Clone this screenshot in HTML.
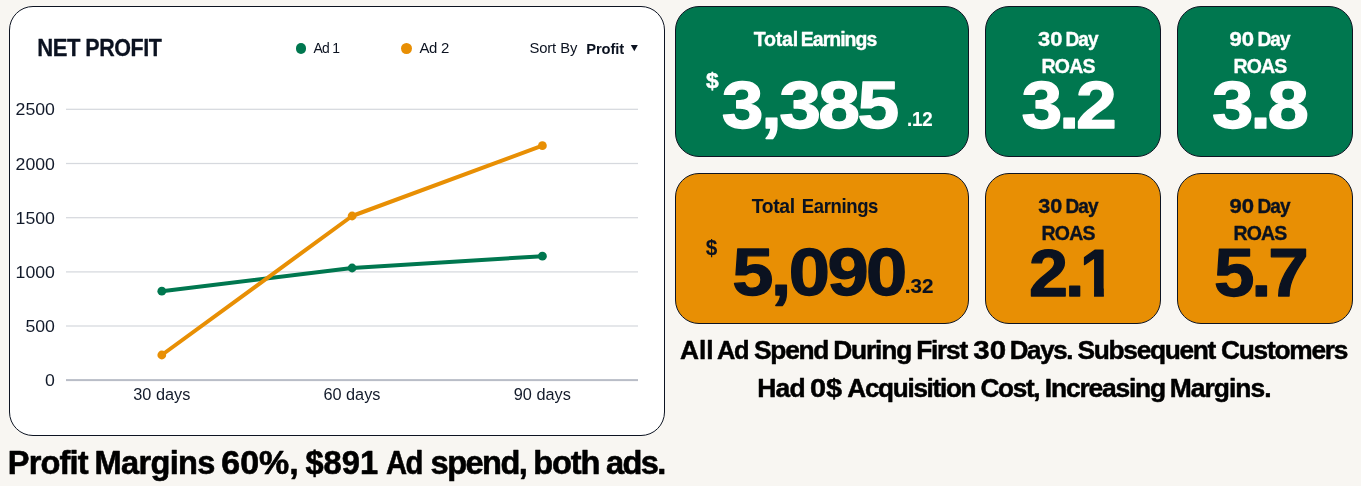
<!DOCTYPE html>
<html lang="en">
<head>
<meta charset="utf-8">
<title>Net Profit</title>
<style>
*{box-sizing:border-box;margin:0;padding:0}
html,body{width:1361px;height:486px;overflow:hidden;background:#f8f6f2;font-family:"Liberation Sans", Arial, sans-serif;color:#0b1220}
.card{position:absolute;border:1px solid #0d1422;border-radius:24px}
.chart{left:9px;top:6px;width:656px;height:430px;background:#fff}
.g{background:#00774f}
.o{background:#e88f04}
.dot{position:absolute;width:10.9px;height:10.9px;border-radius:50%}
svg{position:absolute;left:0;top:0}
</style>
</head>
<body>
<div class="card chart"></div>
<div class="dot" style="left:295.5px;top:42.65px;background:#00774f"></div>
<div class="dot" style="left:401.3px;top:42.65px;background:#e88f04"></div>
<div class="card g" style="left:675px;top:6px;width:294px;height:151px"></div>
<div class="card g" style="left:985px;top:6px;width:176px;height:151px"></div>
<div class="card g" style="left:1177px;top:6px;width:176px;height:151px"></div>
<div class="card o" style="left:675px;top:173px;width:294px;height:151px"></div>
<div class="card o" style="left:985px;top:173px;width:176px;height:151px"></div>
<div class="card o" style="left:1177px;top:173px;width:176px;height:151px"></div>
<svg width="1361" height="486" viewBox="0 0 1361 486" font-family='"Liberation Sans", Arial, sans-serif'>
<defs><clipPath id="c1"><path d="M1081.90 228.07H1103.85V298.58H1094.04V286.86H1081.90z"/></clipPath></defs>
<g fill="#d6d9de"><rect x="66" y="108.68" width="572" height="1.25"/><rect x="66" y="162.88" width="572" height="1.25"/><rect x="66" y="217.08" width="572" height="1.25"/><rect x="66" y="271.28" width="572" height="1.25"/><rect x="66" y="325.38" width="572" height="1.25"/></g>
<rect x="66" y="379.1" width="572" height="2" fill="#b9bdc7"/>
<g font-size="17.1" fill="#121a2a">
<text x="15.57" y="115.45" textLength="39.37" lengthAdjust="spacingAndGlyphs">2500</text>
<text x="15.57" y="169.65" textLength="39.37" lengthAdjust="spacingAndGlyphs">2000</text>
<text x="15.57" y="223.85" textLength="39.37" lengthAdjust="spacingAndGlyphs">1500</text>
<text x="15.57" y="278.05" textLength="39.37" lengthAdjust="spacingAndGlyphs">1000</text>
<text x="25.41" y="332.15" textLength="29.53" lengthAdjust="spacingAndGlyphs">500</text>
<text x="45.10" y="386.35" textLength="9.84" lengthAdjust="spacingAndGlyphs">0</text>
<text x="133.31" y="400.2" textLength="57.08" lengthAdjust="spacingAndGlyphs">30 days</text>
<text x="323.40" y="400.2" textLength="57.08" lengthAdjust="spacingAndGlyphs">60 days</text>
<text x="513.78" y="400.2" textLength="57.08" lengthAdjust="spacingAndGlyphs">90 days</text>
</g>
<polyline points="161.8,291.2 352.1,268.0 542.4,256.2" fill="none" stroke="#00774f" stroke-width="4" stroke-linejoin="round" stroke-linecap="round"/>
<polyline points="161.8,355.0 352.1,216.0 542.4,145.7" fill="none" stroke="#e88f04" stroke-width="4" stroke-linejoin="round" stroke-linecap="round"/>
<g fill="#00774f"><circle cx="161.8" cy="291.2" r="4.4"/><circle cx="352.1" cy="268.0" r="4.4"/><circle cx="542.4" cy="256.2" r="4.4"/></g>
<g fill="#e88f04"><circle cx="161.8" cy="355.0" r="4.4"/><circle cx="352.1" cy="216.0" r="4.4"/><circle cx="542.4" cy="145.7" r="4.4"/></g>
<path d="M630.8 45h7l-3.5 6.3z" fill="#0b1220"/>
<g id="labels">
<text y="55.85" font-size="24.15" font-weight="700" fill="#0b1220" stroke="#0b1220" stroke-width="0.29" stroke-linejoin="round"><tspan x="37.32" letter-spacing="-0.48" textLength="42.81" lengthAdjust="spacingAndGlyphs">NET</tspan> <tspan x="85.26" letter-spacing="-0.48" textLength="76.18" lengthAdjust="spacingAndGlyphs">PROFIT</tspan></text>
<text x="313.50" y="53.00" font-size="14.93" font-weight="400" fill="#0b1220"  letter-spacing="-0.75" textLength="25.85" lengthAdjust="spacingAndGlyphs">Ad 1</text>
<text x="419.40" y="53.00" font-size="14.93" font-weight="400" fill="#0b1220"  letter-spacing="-0.22" textLength="29.82" lengthAdjust="spacingAndGlyphs">Ad 2</text>
<text x="529.41" y="52.70" font-size="14.78" font-weight="400" fill="#0b1220"  letter-spacing="-0.10" textLength="47.79" lengthAdjust="spacingAndGlyphs">Sort By</text>
<text x="586.22" y="53.65" font-size="14.71" font-weight="700" fill="#0b1220"  letter-spacing="-0.10" textLength="37.83" lengthAdjust="spacingAndGlyphs">Profit</text>
<text y="45.82" font-size="19.63" font-weight="700" fill="#ffffff" stroke="#ffffff" stroke-width="0.36" stroke-linejoin="round"><tspan x="753.68" letter-spacing="-0.24" textLength="44.23" lengthAdjust="spacingAndGlyphs">Total</tspan> <tspan x="800.81" letter-spacing="-0.98" textLength="75.44" lengthAdjust="spacingAndGlyphs">Earnings</tspan></text>
<text x="706.02" y="88.38" font-size="22.57" font-weight="700" fill="#ffffff" stroke="#ffffff" stroke-width="0.49" stroke-linejoin="round" letter-spacing="0.00" textLength="12.68" lengthAdjust="spacingAndGlyphs">$</text>
<text x="721.83" y="128.39" font-size="67.38" font-weight="700" fill="#ffffff" stroke="#ffffff" stroke-width="1.26" stroke-linejoin="round" letter-spacing="-2.36" textLength="174.67" lengthAdjust="spacingAndGlyphs">3,385</text>
<text x="906.96" y="126.12" font-size="19.91" font-weight="700" fill="#ffffff" stroke="#ffffff" stroke-width="0.16" stroke-linejoin="round" letter-spacing="-0.20" textLength="25.45" lengthAdjust="spacingAndGlyphs">.12</text>
<text y="45.62" font-size="19.49" font-weight="700" fill="#ffffff" stroke="#ffffff" stroke-width="0.35" stroke-linejoin="round"><tspan x="1038.04" letter-spacing="0.00" textLength="24.38" lengthAdjust="spacingAndGlyphs">30</tspan> <tspan x="1065.54" letter-spacing="-0.97" textLength="32.06" lengthAdjust="spacingAndGlyphs">Day</tspan></text>
<text x="1041.51" y="72.82" font-size="19.49" font-weight="700" fill="#ffffff" stroke="#ffffff" stroke-width="0.35" stroke-linejoin="round" letter-spacing="-0.75" textLength="53.28" lengthAdjust="spacingAndGlyphs">ROAS</text>
<text x="1021.46" y="128.39" font-size="67.38" font-weight="700" fill="#ffffff" stroke="#ffffff" stroke-width="1.26" stroke-linejoin="round" letter-spacing="-3.03" textLength="92.06" lengthAdjust="spacingAndGlyphs">3.2</text>
<text y="45.62" font-size="19.49" font-weight="700" fill="#ffffff" stroke="#ffffff" stroke-width="0.35" stroke-linejoin="round"><tspan x="1229.51" letter-spacing="0.00" textLength="24.61" lengthAdjust="spacingAndGlyphs">90</tspan> <tspan x="1257.54" letter-spacing="-0.97" textLength="32.06" lengthAdjust="spacingAndGlyphs">Day</tspan></text>
<text x="1233.41" y="72.82" font-size="19.49" font-weight="700" fill="#ffffff" stroke="#ffffff" stroke-width="0.35" stroke-linejoin="round" letter-spacing="-0.82" textLength="53.01" lengthAdjust="spacingAndGlyphs">ROAS</text>
<text x="1212.14" y="128.39" font-size="67.38" font-weight="700" fill="#ffffff" stroke="#ffffff" stroke-width="1.26" stroke-linejoin="round" letter-spacing="-3.03" textLength="93.52" lengthAdjust="spacingAndGlyphs">3.8</text>
<text y="212.97" font-size="20.06" font-weight="700" fill="#0b1220" stroke="#0b1220" stroke-width="0.06" stroke-linejoin="round"><tspan x="751.84" letter-spacing="-0.40" textLength="42.86" lengthAdjust="spacingAndGlyphs">Total</tspan> <tspan x="801.82" letter-spacing="-0.40" textLength="76.15" lengthAdjust="spacingAndGlyphs">Earnings</tspan></text>
<text x="705.83" y="255.21" font-size="22.22" font-weight="700" fill="#0b1220" stroke="#0b1220" stroke-width="0.08" stroke-linejoin="round" letter-spacing="0.00" textLength="11.56" lengthAdjust="spacingAndGlyphs">$</text>
<text x="732.21" y="295.49" font-size="67.51" font-weight="700" fill="#0b1220" stroke="#0b1220" stroke-width="1.27" stroke-linejoin="round" letter-spacing="-2.36" textLength="172.44" lengthAdjust="spacingAndGlyphs">5,090</text>
<text x="904.84" y="292.92" font-size="19.35" font-weight="700" fill="#0b1220" stroke="#0b1220" stroke-width="0.16" stroke-linejoin="round" letter-spacing="0.00" textLength="28.62" lengthAdjust="spacingAndGlyphs">.32</text>
<text y="212.62" font-size="19.49" font-weight="700" fill="#0b1220" stroke="#0b1220" stroke-width="0.35" stroke-linejoin="round"><tspan x="1038.34" letter-spacing="0.00" textLength="24.06" lengthAdjust="spacingAndGlyphs">30</tspan> <tspan x="1065.54" letter-spacing="-0.97" textLength="32.06" lengthAdjust="spacingAndGlyphs">Day</tspan></text>
<text x="1041.51" y="239.82" font-size="19.49" font-weight="700" fill="#0b1220" stroke="#0b1220" stroke-width="0.35" stroke-linejoin="round" letter-spacing="-0.75" textLength="53.28" lengthAdjust="spacingAndGlyphs">ROAS</text>
<text x="1029.12" y="295.58" font-size="67.50" font-weight="700" fill="#0b1220" stroke="#0b1220" stroke-width="1.25" stroke-linejoin="round" letter-spacing="-3.04" textLength="52.16" lengthAdjust="spacingAndGlyphs">2.</text>
<text x="1080.30" y="295.58" font-size="67.50" font-weight="700" fill="#0b1220" stroke="#0b1220" stroke-width="1.25" stroke-linejoin="round" textLength="34.32" lengthAdjust="spacingAndGlyphs" clip-path="url(#c1)">1</text>
<text y="212.62" font-size="19.49" font-weight="700" fill="#0b1220" stroke="#0b1220" stroke-width="0.35" stroke-linejoin="round"><tspan x="1229.51" letter-spacing="0.00" textLength="24.61" lengthAdjust="spacingAndGlyphs">90</tspan> <tspan x="1257.54" letter-spacing="-0.97" textLength="32.06" lengthAdjust="spacingAndGlyphs">Day</tspan></text>
<text x="1233.41" y="239.82" font-size="19.49" font-weight="700" fill="#0b1220" stroke="#0b1220" stroke-width="0.35" stroke-linejoin="round" letter-spacing="-0.82" textLength="53.01" lengthAdjust="spacingAndGlyphs">ROAS</text>
<text x="1214.14" y="295.50" font-size="67.64" font-weight="700" fill="#0b1220" stroke="#0b1220" stroke-width="1.25" stroke-linejoin="round" letter-spacing="-3.04" textLength="91.39" lengthAdjust="spacingAndGlyphs">5.7</text>
<text y="474.17" font-size="32.57" font-weight="700" fill="#000000" stroke="#000000" stroke-width="0.60" stroke-linejoin="round"><tspan x="7.85" letter-spacing="-0.87" textLength="79.83" lengthAdjust="spacingAndGlyphs">Profit</tspan> <tspan x="94.60" letter-spacing="-0.68" textLength="120.10" lengthAdjust="spacingAndGlyphs">Margins</tspan> <tspan x="221.28" letter-spacing="0.00" textLength="77.38" lengthAdjust="spacingAndGlyphs">60%,</tspan> <tspan x="305.47" letter-spacing="0.00" textLength="72.58" lengthAdjust="spacingAndGlyphs">$891</tspan> <tspan x="385.97" letter-spacing="-1.63" textLength="36.05" lengthAdjust="spacingAndGlyphs">Ad</tspan> <tspan x="430.57" letter-spacing="-1.54" textLength="95.72" lengthAdjust="spacingAndGlyphs">spend,</tspan> <tspan x="533.35" letter-spacing="-1.15" textLength="65.94" lengthAdjust="spacingAndGlyphs">both</tspan> <tspan x="605.90" letter-spacing="-1.55" textLength="58.96" lengthAdjust="spacingAndGlyphs">ads.</tspan></text>
<text y="359.26" font-size="26.31" font-weight="700" fill="#000000" stroke="#000000" stroke-width="0.49" stroke-linejoin="round"><tspan x="680.12" letter-spacing="-0.09" textLength="33.33" lengthAdjust="spacingAndGlyphs">All</tspan> <tspan x="717.04" letter-spacing="-1.32" textLength="31.30" lengthAdjust="spacingAndGlyphs">Ad</tspan> <tspan x="754.12" letter-spacing="-1.29" textLength="73.96" lengthAdjust="spacingAndGlyphs">Spend</tspan> <tspan x="833.16" letter-spacing="-1.13" textLength="77.96" lengthAdjust="spacingAndGlyphs">During</tspan> <tspan x="916.26" letter-spacing="-1.26" textLength="50.71" lengthAdjust="spacingAndGlyphs">First</tspan> <tspan x="973.35" letter-spacing="0.00" textLength="32.77" lengthAdjust="spacingAndGlyphs">30</tspan> <tspan x="1009.69" letter-spacing="-1.32" textLength="62.53" lengthAdjust="spacingAndGlyphs">Days.</tspan> <tspan x="1077.62" letter-spacing="-1.31" textLength="137.41" lengthAdjust="spacingAndGlyphs">Subsequent</tspan> <tspan x="1220.89" letter-spacing="-1.22" textLength="126.39" lengthAdjust="spacingAndGlyphs">Customers</tspan></text>
<text y="396.66" font-size="26.44" font-weight="700" fill="#000000" stroke="#000000" stroke-width="0.49" stroke-linejoin="round"><tspan x="757.16" letter-spacing="-0.73" textLength="47.78" lengthAdjust="spacingAndGlyphs">Had</tspan> <tspan x="809.98" letter-spacing="0.00" textLength="32.16" lengthAdjust="spacingAndGlyphs">0$</tspan> <tspan x="847.32" letter-spacing="-1.32" textLength="127.92" lengthAdjust="spacingAndGlyphs">Acquisition</tspan> <tspan x="980.50" letter-spacing="-1.32" textLength="58.76" lengthAdjust="spacingAndGlyphs">Cost,</tspan> <tspan x="1044.86" letter-spacing="-1.22" textLength="120.09" lengthAdjust="spacingAndGlyphs">Increasing</tspan> <tspan x="1169.66" letter-spacing="-0.98" textLength="100.91" lengthAdjust="spacingAndGlyphs">Margins.</tspan></text>
</g>
</svg>
</body>
</html>
